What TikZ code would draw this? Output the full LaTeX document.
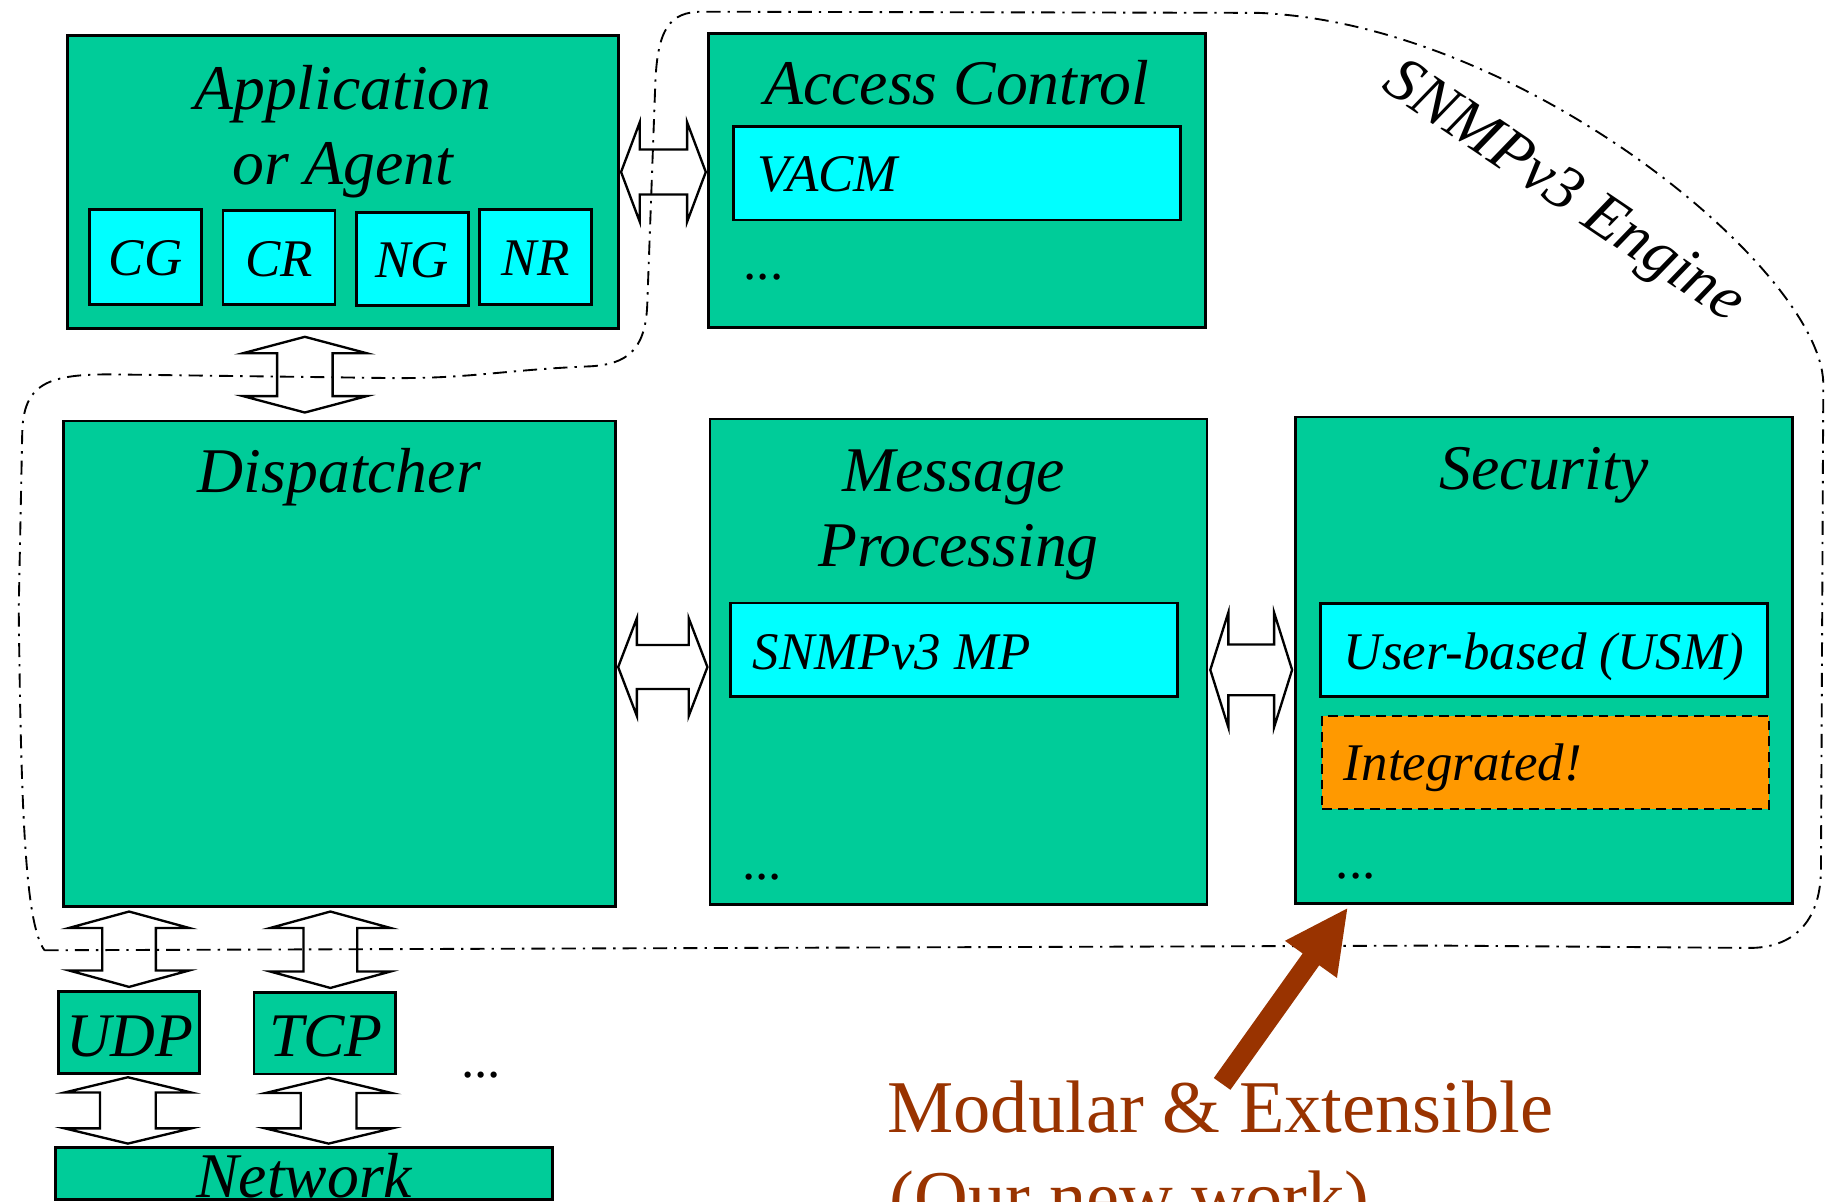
\documentclass[tikz,border=0pt]{standalone}
\usepackage{fontspec}
\setmainfont{Liberation Serif}
\usetikzlibrary{fit,calc}
\definecolor{boxgreen}{HTML}{00CC99}
\definecolor{boxcyan}{HTML}{00FFFF}
\definecolor{boxorange}{HTML}{FF9900}
\definecolor{brownred}{HTML}{993300}
\tikzset{
  gbox/.style={draw=black, fill=boxgreen, line width=1.2pt, inner sep=0pt},
  cbox/.style={draw=black, fill=boxcyan, line width=1.2pt, inner sep=0pt},
  obox/.style={draw=black, fill=boxorange, line width=1pt, dash pattern=on 4.2pt off 2.6pt, inner sep=0pt},
  ttl/.style={font=\fontsize{27.2}{32}\selectfont\itshape, inner sep=0pt, anchor=base},
  sub/.style={font=\fontsize{22.6}{27}\selectfont\itshape, inner sep=0pt, anchor=base},
  subl/.style={sub, anchor=base west},
  proto/.style={font=\fontsize{26.5}{31}\selectfont\itshape, inner sep=0pt, anchor=base},
  dots/.style={font=\fontsize{22.6}{27}\selectfont, inner sep=0pt, anchor=base west},
  note/.style={font=\fontsize{31.8}{38}\selectfont, text=brownred, inner sep=0pt, anchor=base west},
  blk/.style={draw=black, fill=white, line width=1pt, line join=miter},
  dblv/.style n args={4}{blk, to path={let \p1=(\tikztostart), \p2=(\tikztotarget) in
    (\x1,\y1-#4) -- (\x1+#2,\y1-#4-#3) -- (\x1+#1,\y1-#4-#3) -- (\x1+#1,\y2+#4+#3) -- (\x1+#2,\y2+#4+#3) -- (\x1,\y2+#4) -- (\x1-#2,\y2+#4+#3) -- (\x1-#1,\y2+#4+#3) -- (\x1-#1,\y1-#4-#3) -- (\x1-#2,\y1-#4-#3) -- cycle}},
  dblh/.style n args={4}{blk, to path={let \p1=(\tikztostart), \p2=(\tikztotarget) in
    (\x1+#4,\y1) -- (\x1+#4+#3,\y1+#2) -- (\x1+#4+#3,\y1+#1) -- (\x2-#4-#3,\y1+#1) -- (\x2-#4-#3,\y1+#2) -- (\x2-#4,\y1) -- (\x2-#4-#3,\y1-#2) -- (\x2-#4-#3,\y1-#1) -- (\x1+#4+#3,\y1-#1) -- (\x1+#4+#3,\y1-#2) -- cycle}},
  engine/.style={draw=black, line width=0.8pt, dash pattern=on 6pt off 3pt on 1pt off 3pt},
}
\begin{document}
\begin{tikzpicture}[x=0.5pt, y=-0.5pt]
\useasboundingbox (0,0) rectangle (1568,1026.3);
\clip (0,0) rectangle (1568,1026.3);

% outer boxes
\node[gbox, fit={(57.7,30.1) (528.5,280.6)}] (app) {};
\node[gbox, fit={(605.3,28.5) (1030,279.6)}] (ac) {};
\node[gbox, fit={(54.1,359.7) (526,774.7)}] (disp) {};
\node[gbox, fit={(606.7,358) (1031.4,773)}] (mp) {};
\node[gbox, fit={(1106.9,356.4) (1531.8,772.1)}] (sec) {};
\node[gbox, fit={(50.2,847.5) (170.5,917.3)}] (udp) {};
\node[gbox, fit={(217.1,848.4) (338,917.8)}] (tcp) {};
\node[gbox, fit={(47.6,980.4) (472.4,1025.3)}] (net) {};

% inner boxes
\node[cbox, fit={(76.2,179.2) (172.5,260)}] (cg) {};
\node[cbox, fit={(190.6,180) (286.3,260.5)}] (cr) {};
\node[cbox, fit={(304.4,181.5) (400.2,261)}] (ng) {};
\node[cbox, fit={(409.7,179.2) (505.5,260)}] (nr) {};
\node[cbox, fit={(626.9,107.9) (1008.6,188)}] (vacm) {};
\node[cbox, fit={(624.3,515.3) (1006,595.2)}] (snmpmp) {};
\node[cbox, fit={(1128.3,516) (1510.4,595.2)}] (usm) {};
\node[obox, fit={(1129.8,611.6) (1511.5,691.2)}] (integ) {};

% texts
\node[ttl] (appT1) at (293,93.2) {Application};
\node[ttl] (appT2) at (293,157.6) {or Agent};
\node[sub] (cgT) at (cg.center |- 0,235.5) {CG};
\node[sub] (crT) at (cr.center |- 0,236) {CR};
\node[sub] (ngT) at (ng.center |- 0,237.5) {NG};
\node[sub] (nrT) at (nr.center |- 0,235.5) {NR};
\node[ttl] (acT) at (817.6,89.5) {Access Control};
\node[subl] (vacmT) at (647,163.5) {VACM};
\node[dots] (acD) at (635,238.5) {...};
\node[ttl] (dispT) at (290,421.2) {Dispatcher};
\node[ttl] (mpT1) at (815,419.6) {Message};
\node[ttl] (mpT2) at (819,484) {Processing};
\node[subl] (snmpmpT) at (643,571.7) {SNMPv3 MP};
\node[dots] (mpD) at (634,751.7) {...};
\node[ttl] (secT) at (1319.3,418.6) {Security};
\node[subl] (usmT) at (1148,572.3) {User-based (USM)};
\node[subl] (integT) at (1148,666.6) {Integrated!};
\node[dots] (secD) at (1141,751) {...};
\node[proto] (udpT) at (111,902.5) {UDP};
\node[proto] (tcpT) at (278.5,903.1) {TCP};
\node[dots] (netD) at (393.7,920.3) {...};
\node[ttl] (netT) at (260,1023) {Network};

% block double arrows
\draw[dblh={9.6pt}{21.3pt}{8pt}{0.5pt}] (app.east |- 0,147) to (ac.west |- 0,147);
\draw[dblh={9.4pt}{20.9pt}{8pt}{0.5pt}] (disp.east |- 0,570) to (mp.west |- 0,570);
\draw[dblh={10.85pt}{24.5pt}{7.7pt}{0.8pt}] (mp.east |- 0,572.4) to (sec.west |- 0,572.4);
\draw[dblv={11.85pt}{26.35pt}{7pt}{3pt}] (260.5,0 |- app.south) to (260.5,0 |- disp.north);
\draw[dblv={11.45pt}{25.6pt}{7pt}{1.5pt}] (110.3,0 |- disp.south) to (110.3,0 |- udp.north);
\draw[dblv={11.45pt}{25.6pt}{7pt}{1.5pt}] (282.3,0 |- disp.south) to (282.3,0 |- tcp.north);
\draw[dblv={11.9pt}{27pt}{6.5pt}{1pt}] (109.3,0 |- udp.south) to (109.3,0 |- net.north);
\draw[dblv={11.9pt}{27pt}{6.5pt}{1pt}] (280.8,0 |- tcp.south) to (280.8,0 |- net.north);

% engine boundary
\draw[engine] (38,812) -- (1230,808) -- (1495,810) .. controls (1530,810) and (1556,790) .. (1556,742)
  -- (1558,327) .. controls (1555,230) and (1300,20) .. (1075,11) -- (600,10)
  .. controls (572,10) and (562,25) .. (560,70) -- (553,262)
  .. controls (551,300) and (535,311) .. (505,313) .. controls (430,316) and (400,324) .. (330,323)
  -- (100,320) .. controls (40,319) and (20,328) .. (19,370) -- (16,520)
  .. controls (18,700) and (22,790) .. (38,812) -- cycle;
\node[font=\fontsize{27}{32}\selectfont\itshape, inner sep=0pt, anchor=center, rotate=-34] (engT) at (1335,166) {SNMPv3 Engine};

% note arrow
\coordinate (tail) at (1044.3,926.2);
\coordinate (tip) at (1151.2,776.3);
\coordinate (base) at ($(tip)!0.29!(tail)$);
\fill[brownred] ($(tail)!4.35pt!90:(tip)$) -- ($(base)!4.35pt!90:(tip)$) -- ($(base)!13.65pt!90:(tip)$) -- (tip)
  -- ($(base)!13.65pt!-90:(tip)$) -- ($(base)!4.35pt!-90:(tip)$) -- ($(tail)!4.35pt!-90:(tip)$) -- cycle;
\node[note] (mod1) at (758,968) {Modular \& Extensible};
\node[note] (mod2) at (760,1045) {(Our new work)};
\end{tikzpicture}
\end{document}
